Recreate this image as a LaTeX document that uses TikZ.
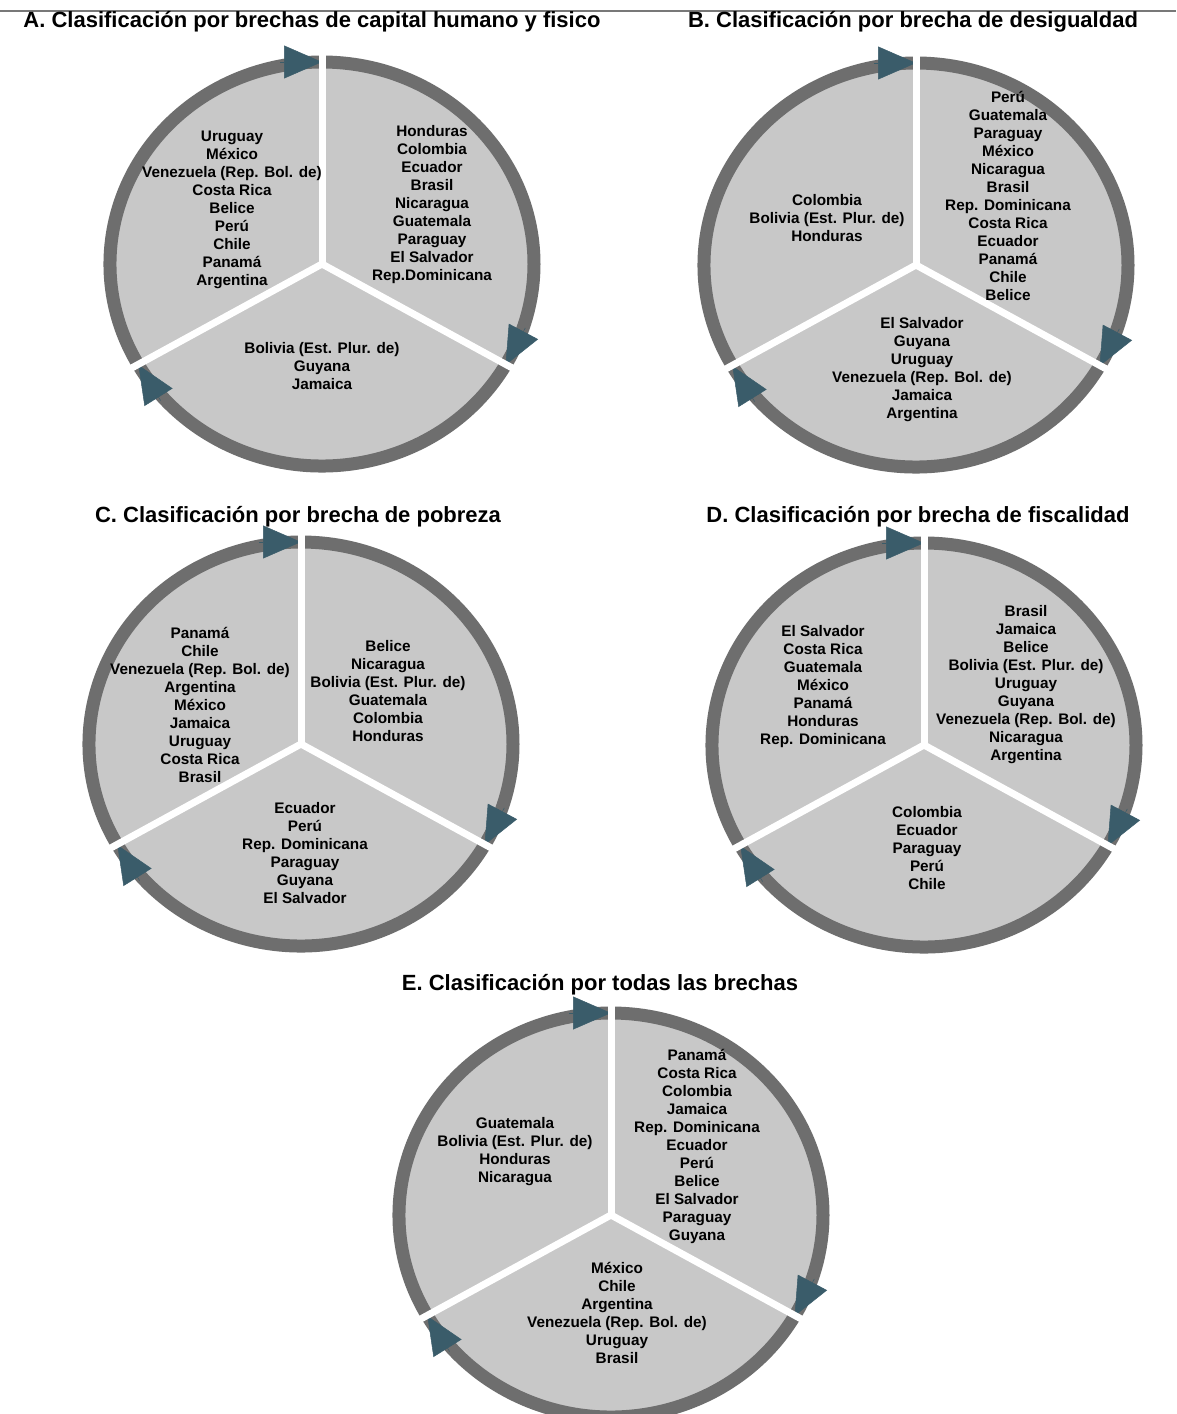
\documentclass[tikz,border=0pt]{standalone}
\usepackage{fontspec}
\setmainfont{Liberation Sans}
\usetikzlibrary{arrows.meta, positioning, calc}
\definecolor{ringgray}{RGB}{110,110,110}
\definecolor{sectorgray}{RGB}{200,200,200}
\definecolor{tipteal}{RGB}{58,92,106}
\definecolor{rulegray}{RGB}{120,120,120}

% one wheel: light disc, three arcs with heads, white separators
\newcommand{\rueda}[1]{%
  \fill[sector] (#1) ellipse[x radius=213, y radius=203];
  \draw[ring] ($(#1)+(150:212 and 202)$) arc[start angle=150, end angle=270, x radius=212, y radius=202];
  \draw[ring] ($(#1)+(270:212 and 202)$) arc[start angle=270, end angle=390, x radius=212, y radius=202];
  \draw[ring] ($(#1)+(30:212 and 202)$) arc[start angle=30, end angle=150, x radius=212, y radius=202];
  \draw[punta] ($(#1)+(270:212 and 202)+(180:42)$) -- ($(#1)+(270:212 and 202)$);
  \draw[punta] ($(#1)+(30:212 and 202)+(-62:42)$) -- ($(#1)+(30:212 and 202)$);
  \draw[punta] ($(#1)+(150:212 and 202)+(58:42)$) -- ($(#1)+(150:212 and 202)$);
  \draw[sep] (#1) -- ($(#1)+(270:224 and 212)$);
  \draw[sep] (#1) -- ($(#1)+(150:224 and 212)$);
  \draw[sep] (#1) -- ($(#1)+(30:224 and 212)$);
}

\begin{document}
\begin{tikzpicture}[
    x=1pt, y=-1pt,
    sector/.style={fill=sectorgray},
    ring/.style={draw=ringgray, line width=13pt},
    punta/.style={draw=tipteal, line width=0.5pt,
                  -{Triangle[length=38pt, width=33pt, color=tipteal]}},
    sep/.style={draw=white, line width=7pt},
    lista/.style={align=center, inner sep=0pt,
                  font=\bfseries\fontsize{15.3}{18}\selectfont},
    titulo/.style={inner sep=0pt, font=\bfseries\fontsize{22}{26}\selectfont}
]
\useasboundingbox (0,0) rectangle (1176,1414);
\fill[white] (0,0) rectangle (1176,1414);
\clip (0,0) rectangle (1176,1414);

\coordinate (r1) at (0,11);
\coordinate (r2) at (1176,11);
\draw[rulegray, line width=1.2pt] (r1) -- (r2);

\coordinate (cA) at (322,264);
\coordinate (cB) at (916,265);
\coordinate (cC) at (301,744);
\coordinate (cD) at (924,745);
\coordinate (cE) at (611,1215);

\rueda{cA}
\rueda{cB}
\rueda{cC}
\rueda{cD}
\rueda{cE}

% A
\node[lista] (A-izq) at (232,210) {Uruguay\\México\\Venezuela (Rep. Bol. de)\\Costa Rica\\Belice\\Perú\\Chile\\Panamá\\Argentina};
\node[lista] (A-der) at (432,205) {Honduras\\Colombia\\Ecuador\\Brasil\\Nicaragua\\Guatemala\\Paraguay\\El Salvador\\Rep.Dominicana};
\node[lista] (A-inf) at (322,366) {Bolivia (Est. Plur. de)\\Guyana\\Jamaica};

% B
\node[lista] (B-izq) at (827,218) {Colombia\\Bolivia (Est. Plur. de)\\Honduras};
\node[lista] (B-der) at (1008,196) {Perú\\Guatemala\\Paraguay\\México\\Nicaragua\\Brasil\\Rep. Dominicana\\Costa Rica\\Ecuador\\Panamá\\Chile\\Belice};
\node[lista] (B-inf) at (922,370) {El Salvador\\Guyana\\Uruguay\\Venezuela (Rep. Bol. de)\\Jamaica\\Argentina};

% C
\node[lista] (C-izq) at (200,705) {Panamá\\Chile\\Venezuela (Rep. Bol. de)\\Argentina\\México\\Jamaica\\Uruguay\\Costa Rica\\Brasil};
\node[lista] (C-der) at (388,691) {Belice\\Nicaragua\\Bolivia (Est. Plur. de)\\Guatemala\\Colombia\\Honduras};
\node[lista] (C-inf) at (305,853) {Ecuador\\Perú\\Rep. Dominicana\\Paraguay\\Guyana\\El Salvador};

% D
\node[lista] (D-izq) at (823,687) {El Salvador\\Costa Rica\\Guatemala\\México\\Panamá\\Honduras\\Rep. Dominicana};
\node[lista] (D-der) at (1026,685) {Brasil\\Jamaica\\Belice\\Bolivia (Est. Plur. de)\\Uruguay\\Guyana\\Venezuela (Rep. Bol. de)\\Nicaragua\\Argentina};
\node[lista] (D-inf) at (927,848) {Colombia\\Ecuador\\Paraguay\\Perú\\Chile};

% E
\node[lista] (E-izq) at (515,1152) {Guatemala\\Bolivia (Est. Plur. de)\\Honduras\\Nicaragua};
\node[lista] (E-der) at (697,1146) {Panamá\\Costa Rica\\Colombia\\Jamaica\\Rep. Dominicana\\Ecuador\\Perú\\Belice\\El Salvador\\Paraguay\\Guyana};
\node[lista] (E-inf) at (617,1313) {México\\Chile\\Argentina\\Venezuela (Rep. Bol. de)\\Uruguay\\Brasil};

\node[titulo] (titA) at (312,22) {A. Clasificación por brechas de capital humano y fisico};
\node[titulo] (titB) at (913,22) {B. Clasificación por brecha de desigualdad};
\node[titulo] (titC) at (298,517) {C. Clasificación por brecha de pobreza};
\node[titulo] (titD) at (918,517) {D. Clasificación por brecha de fiscalidad};
\node[titulo] (titE) at (600,985) {E. Clasificación por todas las brechas};
\end{tikzpicture}
\end{document}
